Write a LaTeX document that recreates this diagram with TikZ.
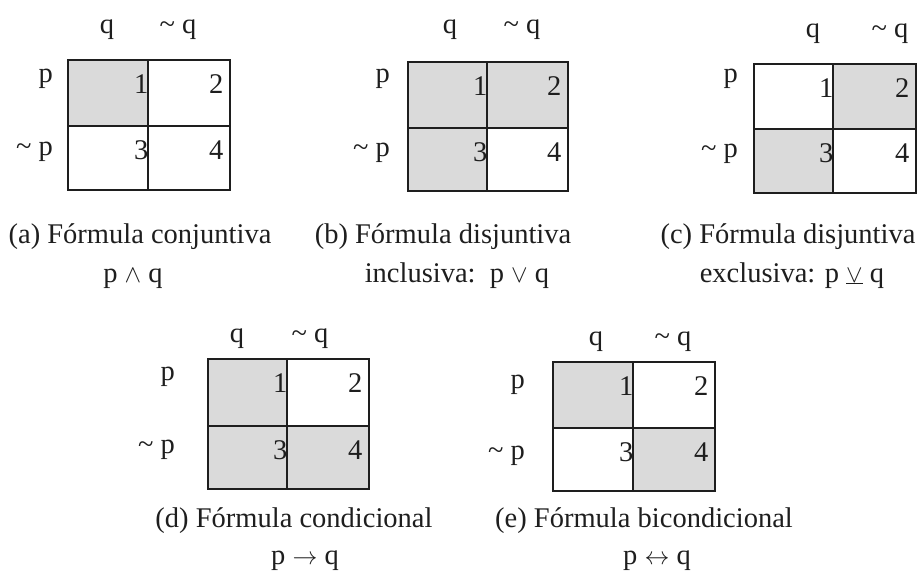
\documentclass[tikz,border=0pt]{standalone}
\usepackage{fontspec}
\setmainfont{Liberation Serif}
\definecolor{cellgray}{RGB}{218,218,218}
\definecolor{ink}{RGB}{30,30,30}
\tikzset{
  txt/.style={font=\fontsize{28.5}{34}\selectfont, text=ink, inner sep=0pt},
  captxt/.style={txt, anchor=base},
  collab/.style={txt, anchor=base},
  rowlab/.style={txt, anchor=base east},
  num/.style={txt, anchor=base east},
  gridline/.style={draw=ink, line width=1.9pt},
  cellfill/.style={fill=cellgray},
}
\newcommand\kmapgrid[7]{%
  \coordinate (#1-LT) at (#2,#5);
  \coordinate (#1-MT) at (#3,#5);
  \coordinate (#1-RT) at (#4,#5);
  \coordinate (#1-LM) at (#2,#6);
  \coordinate (#1-MM) at (#3,#6);
  \coordinate (#1-RM) at (#4,#6);
  \coordinate (#1-LB) at (#2,#7);
  \coordinate (#1-MB) at (#3,#7);
  \coordinate (#1-RB) at (#4,#7);
}
\newcommand\kmapframe[1]{%
  \draw[gridline] (#1-LT) rectangle (#1-RB);
  \draw[gridline] (#1-MT) -- (#1-MB);
  \draw[gridline] (#1-LM) -- (#1-RM);
  \node[num] (#1-n1) at ([shift={(0.5,33)}]#1-MT) {1};
  \node[num] (#1-n2) at ([shift={(-6.5,33)}]#1-RT) {2};
  \node[num] (#1-n3) at ([shift={(0.5,33)}]#1-MM) {3};
  \node[num] (#1-n4) at ([shift={(-6.5,33)}]#1-RM) {4};
}
\begin{document}
\begin{tikzpicture}[x=1pt,y=-1pt]
\path[use as bounding box, fill=white] (0,0) rectangle (920,573);

% (a)
\kmapgrid{a}{68}{148}{230}{60}{126}{190}
\fill[cellfill] (a-LT) rectangle (a-MM);
\kmapframe{a}
\node[collab] (a-q) at (107,33) {q};
\node[collab] (a-nq) at (178,33) {\textasciitilde\ q};
\node[rowlab] (a-p) at (53,82) {p};
\node[rowlab] (a-np) at (53,155) {\textasciitilde\ p};
\node[captxt] (a-c1) at (140,243) {(a) Fórmula conjuntiva};
\node[captxt] (a-c2) at (133,282) {p $\wedge$ q};

% (b)
\kmapgrid{b}{408}{487}{568}{62}{128}{191}
\fill[cellfill] (b-LT) rectangle (b-MM);
\fill[cellfill] (b-MT) rectangle (b-RM);
\fill[cellfill] (b-LM) rectangle (b-MB);
\kmapframe{b}
\node[collab] (b-q) at (450,33) {q};
\node[collab] (b-nq) at (522,33) {\textasciitilde\ q};
\node[rowlab] (b-p) at (390,82) {p};
\node[rowlab] (b-np) at (390,156) {\textasciitilde\ p};
\node[captxt] (b-c1) at (443,243) {(b) Fórmula disjuntiva};
\node[captxt] (b-c2) at (457,282) {inclusiva:\ \ p $\vee$ q};

% (c)
\kmapgrid{c}{754}{833}{916}{64}{129}{193}
\fill[cellfill] (c-MT) rectangle (c-RM);
\fill[cellfill] (c-LM) rectangle (c-MB);
\kmapframe{c}
\node[collab] (c-q) at (813,37) {q};
\node[collab] (c-nq) at (890,37) {\textasciitilde\ q};
\node[rowlab] (c-p) at (738,82) {p};
\node[rowlab] (c-np) at (738,157) {\textasciitilde\ p};
\node[captxt] (c-c1) at (788,243) {(c) Fórmula disjuntiva};
\node[captxt] (c-c2) at (792,282) {exclusiva: p $\underline{\vee}$ q};

% (d)
\kmapgrid{d}{208}{287}{369}{359}{426}{489}
\fill[cellfill] (d-LT) rectangle (d-MM);
\fill[cellfill] (d-LM) rectangle (d-MB);
\fill[cellfill] (d-MM) rectangle (d-RB);
\kmapframe{d}
\node[collab] (d-q) at (237,342) {q};
\node[collab] (d-nq) at (310,342) {\textasciitilde\ q};
\node[rowlab] (d-p) at (175,380) {p};
\node[rowlab] (d-np) at (175,453) {\textasciitilde\ p};
\node[captxt] (d-c1) at (294,527) {(d) Fórmula condicional};
\node[captxt] (d-c2) at (305,564) {p $\rightarrow$ q};

% (e)
\kmapgrid{e}{553}{633}{715}{362}{428}{491}
\fill[cellfill] (e-LT) rectangle (e-MM);
\fill[cellfill] (e-MM) rectangle (e-RB);
\kmapframe{e}
\node[collab] (e-q) at (596,345) {q};
\node[collab] (e-nq) at (673,345) {\textasciitilde\ q};
\node[rowlab] (e-p) at (525,388) {p};
\node[rowlab] (e-np) at (525,459) {\textasciitilde\ p};
\node[captxt] (e-c1) at (644,527) {(e) Fórmula bicondicional};
\node[captxt] (e-c2) at (657,564) {p $\leftrightarrow$ q};
\end{tikzpicture}
\end{document}
